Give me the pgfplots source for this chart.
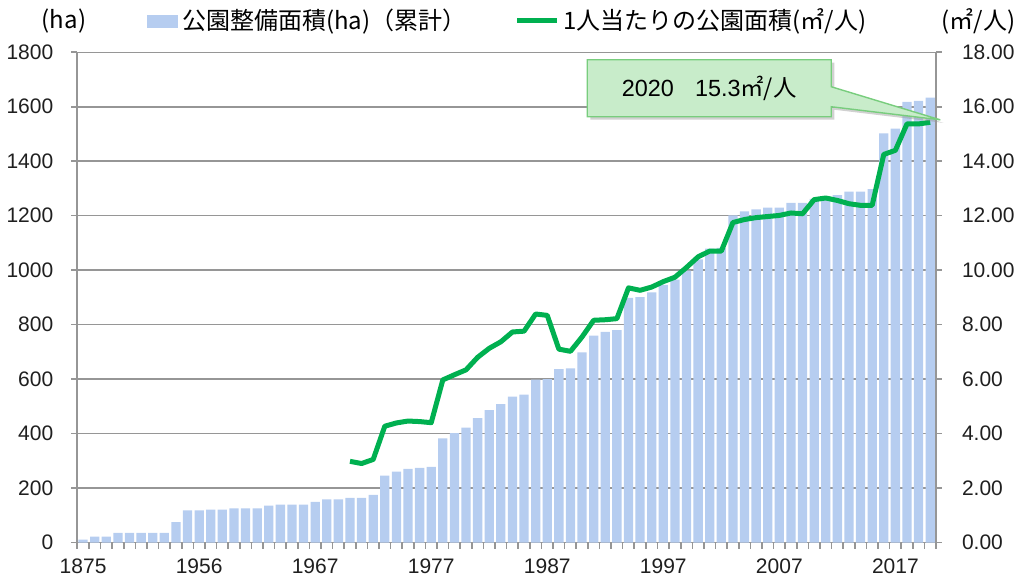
\documentclass[border=0pt]{standalone}
\usepackage{pgfplots}
\pgfplotsset{compat=1.18}
\usepackage{fontspec}
\setmainfont{Liberation Sans}
\newfontfamily\jp{Noto Sans CJK JP}
\usetikzlibrary{shapes.callouts,shadows}
\definecolor{barblue}{RGB}{182,205,240}
\definecolor{linegreen}{RGB}{0,176,80}
\definecolor{gridgray}{RGB}{150,150,150}
\definecolor{callfill}{RGB}{200,236,202}
\definecolor{calldraw}{RGB}{120,205,125}

\pgfplotstableread{
x y
0 11
1 22
2 22
3 35
4 35
5 35
6 35
7 35
8 75
9 118
10 118
11 121
12 121
13 125
14 125
15 125
16 135
17 139
18 139
19 139
20 149
21 158
22 158
23 164
24 164
25 175
26 246
27 260
28 270
29 274
30 278
31 382
32 402
33 422
34 457
35 486
36 508
37 536
38 543
39 598
40 600
41 637
42 639
43 698
44 760
45 773
46 780
47 898
48 901
49 918
50 946
51 965
52 998
53 1040
54 1079
55 1082
56 1201
57 1216
58 1223
59 1230
60 1230
61 1247
62 1247
63 1262
64 1262
65 1276
66 1288
67 1288
68 1298
69 1502
70 1520
71 1618
72 1622
73 1634
}\bardata

\pgfplotstableread{
x y
23 2.98
24 2.90
25 3.05
26 4.27
27 4.39
28 4.46
29 4.44
30 4.40
31 5.97
32 6.16
33 6.34
34 6.80
35 7.13
36 7.37
37 7.73
38 7.76
39 8.39
40 8.34
41 7.10
42 7.02
43 7.55
44 8.16
45 8.18
46 8.22
47 9.35
48 9.26
49 9.38
50 9.58
51 9.74
52 10.10
53 10.49
54 10.70
55 10.70
56 11.75
57 11.86
58 11.93
59 11.97
60 12.01
61 12.10
62 12.07
63 12.59
64 12.65
65 12.56
66 12.44
67 12.38
68 12.38
69 14.25
70 14.40
71 15.37
72 15.37
73 15.43
}\linedata

\begin{document}
\begin{tikzpicture}
\pgfplotsset{
  base/.style={
    at={(0,0)}, anchor=south west,
    scale only axis, width=429.35bp, height=245.1bp,
    xmin=-0.5, xmax=73.5,
    tick align=outside,
    axis line style={gridgray, line width=0.8bp},
    tick style={gridgray, line width=0.8bp},
    major tick length=3bp,
    minor tick length=3bp,
    ticklabel style={font=\fontsize{10.5bp}{12bp}\selectfont, text=black!88},
    /pgf/number format/assume math mode=true,
  }
}
\begin{axis}[base,
  ymin=0, ymax=1800,
  ytick={0,200,...,1800},
  ymajorgrids,
  grid style={gridgray, line width=0.75bp},
  axis y line*=left,
  axis x line*=bottom,
  xtick={0,10,...,70},
  xticklabels={1875,1956,1967,1977,1987,1997,2007,2017},
  minor xtick={-0.5,0.5,...,73.5},
  major x tick style={draw=none},
  minor x tick style={gridgray, line width=0.8bp},
  yticklabel style={/pgf/number format/set thousands separator={}, xshift=-5.5bp},
  xticklabel style={yshift=-1.5bp},
]
\addplot[ybar, bar width=0.8, fill=barblue, draw=none] table[x=x,y=y] {\bardata};
\end{axis}
\begin{axis}[base,
  ymin=0, ymax=18,
  ytick={0,2,...,18},
  axis y line*=right,
  axis x line=none,
  clip=false,
  yticklabel style={/pgf/number format/.cd, fixed, fixed zerofill, precision=2, /tikz/.cd, xshift=6.5bp},
  legend style={at={(0.0812,1.0639)}, anchor=west, draw=none, fill=none,
    inner sep=0pt, font=\fontsize{12bp}{14bp}\selectfont\jp,
    /tikz/every even column/.append style={column sep=22bp}},
  legend columns=-1,
]
\addlegendimage{legend image code/.code={\fill[barblue] (0bp,-3bp) rectangle (15bp,3bp);}}
\addlegendentry{公園整備面積(ha)（累計）}
\addplot[linegreen, line width=2.5bp, line join=round,
  legend image code/.code={\draw[linegreen, line width=2.5bp] (0bp,0bp) -- (20bp,0bp);}]
  table[x=x,y=y] {\linedata};
\addlegendentry{1人当たりの公園面積(㎡/人)}
\node[font=\fontsize{12bp}{14bp}\selectfont\jp] at (rel axis cs:-0.0155,1.0639) {(ha)};
\node[font=\fontsize{12bp}{14bp}\selectfont\jp] at (rel axis cs:1.0495,1.0639) {(㎡/人)};
\node[rectangle callout, fill=callfill, draw=calldraw, line width=0.7bp,
  minimum width=122bp, minimum height=28.5bp,
  callout absolute pointer={(axis cs:73.87,15.52)},
  callout pointer width=10bp,
  drop shadow={shadow xshift=1.5bp, shadow yshift=-1.5bp, fill=black!40, opacity=0.45},
  font=\fontsize{11.7bp}{14bp}\selectfont]
  at (axis cs:53.96,16.68) {2020\hspace{0.9em}15.3{\jp ㎡/人}\hspace{32bp}};
\end{axis}
\pgfresetboundingbox
\useasboundingbox (-38.65bp,-21.25bp) rectangle (470.35bp,271.25bp);
\end{tikzpicture}
\end{document}
